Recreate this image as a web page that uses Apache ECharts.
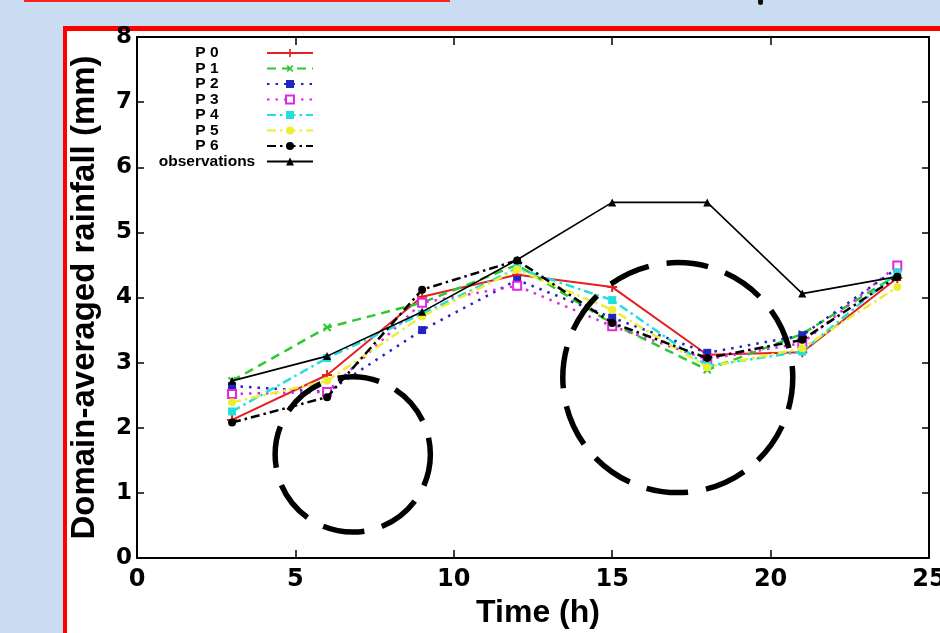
<!DOCTYPE html>
<html>
<head>
<meta charset="utf-8">
<script src="https://cdn.jsdelivr.net/npm/echarts@6/dist/echarts.min.js"></script>
<style>
  html, body { margin: 0; padding: 0; background: #c9dcf1; width: 940px; height: 633px; overflow: hidden; position: relative; }
  #frame { position: absolute; left: 63px; top: 26px; width: 940px; height: 700px; background: #ffffff; border-left: 4px solid #ff0000; border-top: 5px solid #ff0000; }
  #topline { position: absolute; left: 24px; top: 0px; width: 426px; height: 2px; background: #ff2020; }
  #dot { position: absolute; left: 758px; top: -2px; width: 5px; height: 7px; border-radius: 3px; background: #111; }
  #chart { position: absolute; left: 0; top: 0; width: 940px; height: 633px; }
</style>
</head>
<body>
<div id="topline"></div>
<div id="dot"></div>
<div id="frame"></div>
<div id="chart"></div>
<script>
// ---- data ----
const times = [3, 6, 9, 12, 15, 18, 21, 24];
const seriesNames = ['P 0', 'P 1', 'P 2', 'P 3', 'P 4', 'P 5', 'P 6', 'observations'];
const p0 = [2.12, 2.81, 4.01, 4.35, 4.16, 3.12, 3.16, 4.30];
const p1 = [2.72, 3.54, 3.92, 4.50, 3.60, 2.89, 3.44, 4.35];
const p2 = [2.64, 2.55, 3.50, 4.27, 3.69, 3.15, 3.42, 4.45];
const p3 = [2.52, 2.55, 3.92, 4.18, 3.56, 3.05, 3.30, 4.49];
const p4 = [2.25, 3.07, 3.75, 4.45, 3.96, 2.95, 3.17, 4.38];
const p5 = [2.39, 2.72, 3.71, 4.43, 3.81, 2.93, 3.22, 4.16];
const p6 = [2.08, 2.47, 4.12, 4.57, 3.61, 3.07, 3.35, 4.32];
const observations = [2.72, 3.10, 3.78, 4.58, 5.46, 5.46, 4.06, 4.32];
const xTicks = [0, 5, 10, 15, 20, 25];
const yTicks = [0, 1, 2, 3, 4, 5, 6, 7, 8];

// annotation circles (in data units: center x, center y, radius in x units)
const annotations = [
  { cx: 6.81, cy: 1.59, r: 2.45 },
  { cx: 17.07, cy: 2.77, r: 3.63 }
];

const allValues = [p0, p1, p2, p3, p4, p5, p6, observations];

// ---- styles ----
const PLUS = 'path://M4,0H6V4H10V6H6V10H4V6H0V4H4Z';
const styles = [
  { color: '#e42020', type: 'solid', width: 2, symbol: PLUS, size: 10, rotate: 0 },
  { color: '#2ec82e', type: [9, 6], width: 2.5, symbol: PLUS, size: 10, rotate: 45 },
  { color: '#2424c0', type: [2.5, 6], width: 2.5, symbol: 'rect', size: 8, rotate: 0 },
  { color: '#e028e0', type: [2.5, 6], width: 2.5, symbol: 'emptyRect', size: 8, rotate: 0 },
  { color: '#22dede', type: [9, 4, 2.5, 4], width: 2.5, symbol: 'rect', size: 8, rotate: 0 },
  { color: '#eeee30', type: [9, 4, 2.5, 4], width: 2.5, symbol: 'circle', size: 8, rotate: 0 },
  { color: '#000000', type: [9, 4, 2.5, 4], width: 2.5, symbol: 'circle', size: 8, rotate: 0 },
  { color: '#000000', type: 'solid', width: 1.6, symbol: 'triangle', size: 8, rotate: 0 }
];

const series = seriesNames.map((name, i) => ({
  name: name,
  type: 'line',
  xAxisIndex: 0,
  yAxisIndex: 0,
  data: times.map((t, j) => [t, allValues[i][j]]),
  symbol: styles[i].symbol,
  symbolSize: styles[i].size,
  symbolRotate: styles[i].rotate,
  showAllSymbol: true,
  lineStyle: { color: styles[i].color, width: styles[i].width, type: styles[i].type },
  itemStyle: { color: styles[i].color, borderWidth: styles[i].symbol === 'emptyRect' ? 2 : 0, borderColor: styles[i].color },
  emphasis: { disabled: true },
  animation: false,
  z: 2 + i
}));

const tickFont = { fontFamily: 'DejaVu Sans', fontWeight: 'bold', color: '#000' };

const chart = echarts.init(document.getElementById('chart'), null, { renderer: 'canvas' });
chart.setOption({
  animation: false,
  backgroundColor: 'transparent',
  grid: { left: 137, right: 11, top: 37, bottom: 75, show: false, containLabel: false, outerBoundsMode: 'none' },
  legend: {
    orient: 'vertical',
    left: 147,
    top: 40,
    align: 'right',
    itemWidth: 46,
    itemHeight: 10,
    itemGap: -0.5,
    data: seriesNames,
    formatter: name => '{c|' + name + '}',
    textStyle: {
      rich: {
        c: { width: 110, align: 'center', lineHeight: 15, fontFamily: 'Liberation Sans', fontWeight: 'bold', fontSize: 15.5, color: '#000' }
      }
    },
    selectedMode: false
  },
  xAxis: [
    {
      type: 'value', min: 0, max: 25, interval: 5, position: 'bottom',
      axisLine: { show: true, onZero: false, lineStyle: { color: '#000', width: 2 } },
      axisTick: { show: true, inside: true, length: 8, lineStyle: { color: '#000', width: 1.5 } },
      axisLabel: Object.assign({ fontSize: 24, margin: 10, formatter: v => xTicks.includes(v) ? String(v) : '' }, tickFont),
      splitLine: { show: false },
      name: 'Time (h)', nameLocation: 'middle', nameGap: 53,
      nameTextStyle: { fontFamily: 'Liberation Sans', fontWeight: 'bold', fontSize: 32, color: '#000', verticalAlign: 'middle', align: 'center', padding: [0, 0, 0, 10] }
    },
    {
      type: 'value', min: 0, max: 25, interval: 5, position: 'top',
      axisLine: { show: true, onZero: false, lineStyle: { color: '#000', width: 2 } },
      axisTick: { show: true, inside: true, length: 8, lineStyle: { color: '#000', width: 1.5 } },
      axisLabel: { show: false },
      splitLine: { show: false }
    }
  ],
  yAxis: [
    {
      type: 'value', min: 0, max: 8, interval: 1, position: 'left',
      axisLine: { show: true, onZero: false, lineStyle: { color: '#000', width: 2 } },
      axisTick: { show: true, inside: true, length: 7, lineStyle: { color: '#000', width: 1.5 } },
      axisLabel: Object.assign({ fontSize: 23, margin: 5, formatter: v => yTicks.includes(v) ? String(v) : '' }, tickFont),
      splitLine: { show: false },
      name: 'Domain-averaged rainfall (mm)', nameLocation: 'middle', nameGap: 52, nameRotate: 90,
      nameTextStyle: { fontFamily: 'Liberation Sans', fontWeight: 'bold', fontSize: 33, color: '#000', verticalAlign: 'middle', align: 'center' }
    },
    {
      type: 'value', min: 0, max: 8, interval: 1, position: 'right',
      axisLine: { show: true, onZero: false, lineStyle: { color: '#000', width: 2 } },
      axisTick: { show: true, inside: true, length: 7, lineStyle: { color: '#000', width: 1.5 } },
      axisLabel: { show: false },
      splitLine: { show: false }
    }
  ],
  series: series
});

// annotation dashed circles, positioned through the axes
const circles = annotations.map((a, i) => {
  const c = chart.convertToPixel({ gridIndex: 0 }, [a.cx, a.cy]);
  const rx = chart.convertToPixel({ xAxisIndex: 0 }, a.cx + a.r) - chart.convertToPixel({ xAxisIndex: 0 }, a.cx);
  return {
    type: 'circle', id: 'ann' + i, z: 100, silent: true,
    shape: { cx: c[0], cy: c[1], r: rx },
    style: { fill: 'none', stroke: '#000', lineWidth: 5.5, lineDash: [42, 18], lineDashOffset: 10 }
  };
});
chart.setOption({ graphic: circles });
</script>
</body>
</html>
